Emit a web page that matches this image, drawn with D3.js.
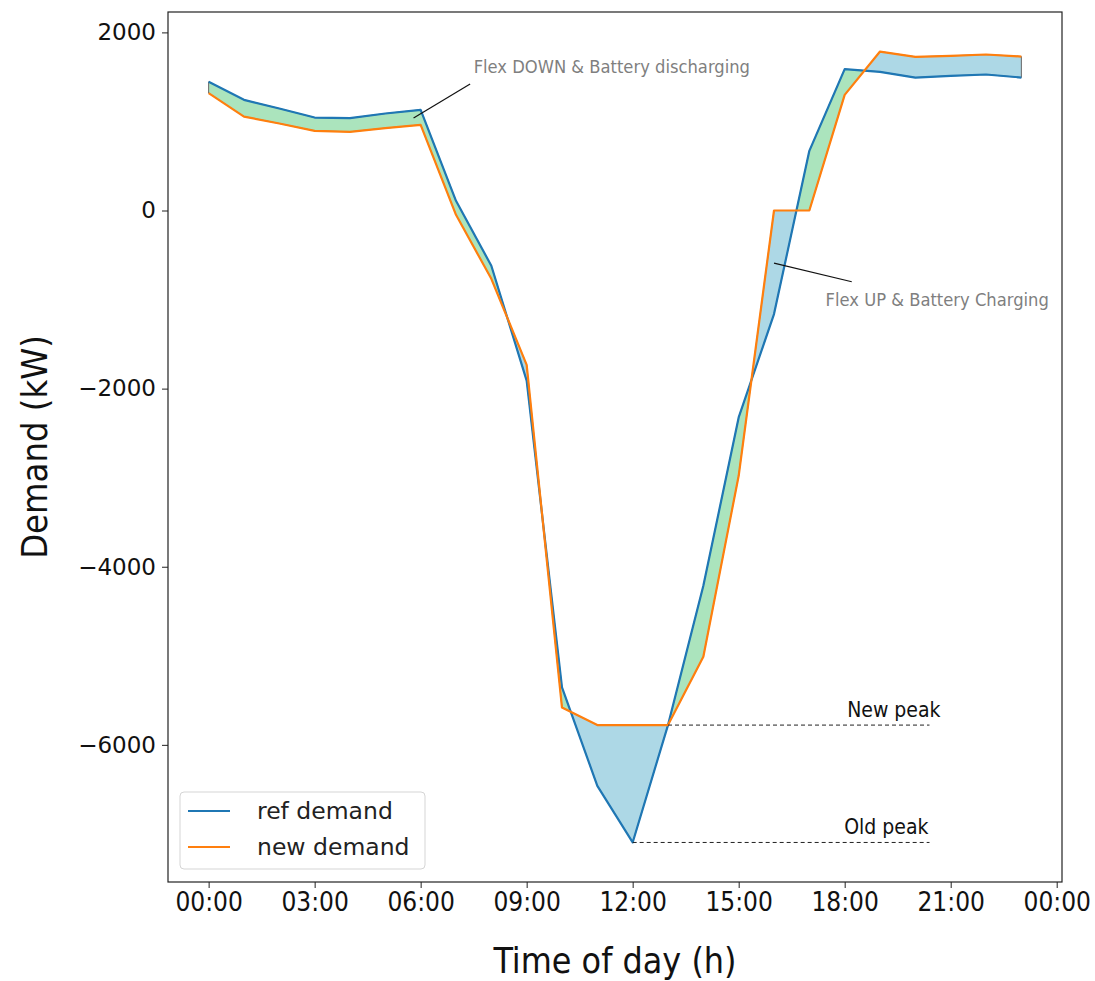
<!DOCTYPE html>
<html>
<head>
<meta charset="utf-8">
<script src="https://cdn.jsdelivr.net/npm/d3@7"></script>
<style>
  html, body { margin: 0; padding: 0; background: #fff; }
  svg { display: block; }
</style>
</head>
<body>
<svg id="chart" width="1095" height="981"></svg>
<script>
// ---- data ----
const hours = [0,1,2,3,4,5,6,7,8,9,10,11,12,13,14,15,16,17,18,19,20,21,22,23];
const refDemand = [1445,1243,1145,1044,1037,1089,1131,109,-620,-1911,-5356,-6460,-7096,-5778,-4214,-2324,-1163,670,1588,1557,1493,1512,1527,1493];
const newDemand = [1318,1055,977,895,884,925,962,-48,-767,-1733,-5581,-5778,-5778,-5778,-5011,-2979,0,0,1299,1785,1726,1737,1752,1729];
const xTicks = [0,3,6,9,12,15,18,21,24];
const xTickLabels = ["00:00","03:00","06:00","09:00","12:00","15:00","18:00","21:00","00:00"];
const yTicks = [2000,0,-2000,-4000,-6000];
const seriesNames = ["ref demand","new demand"];
const newPeak = -5778, newPeakHour = 13;
const oldPeak = -7096, oldPeakHour = 12;
const peakLineEndHour = 20.4;
const annoDown = {text:"Flex DOWN & Battery discharging", from:[5.8,1040], to:[7.4,1420], at:[7.5,1546]};
const annoUp = {text:"Flex UP & Battery Charging", from:[16.0,-590], to:[18.2,-800], at:[17.46,-1070]};

// ---- layout ----
const svg = d3.select("#chart");
const L = 168, R = 1062, T = 12, B = 882;
const xMin = d3.min(hours), xMax = d3.max(hours);
const xPad = (xMax - xMin) * 0.05;
const allV = refDemand.concat(newDemand);
const vMin = d3.min(allV), vMax = d3.max(allV);
const yPad = (vMax - vMin) * 0.05;
const x = d3.scaleLinear().domain([xMin - xPad, xMax + xPad]).range([L, R]);
const y = d3.scaleLinear().domain([vMin - yPad, vMax + yPad]).range([B, T]);

const blue = "#1f77b4", orange = "#ff7f0e";
const greenFill = "#abe4bd", blueFill = "#add8e6";
const narrow = "Liberation Sans Narrow, DejaVu Sans Condensed, sans-serif";

// ---- fill between with interpolation ----
const pts = [];
for (let i = 0; i < hours.length; i++) {
  const p = {t: hours[i], r: refDemand[i], n: newDemand[i]};
  p.d = p.r - p.n;
  pts.push(p);
  if (i < hours.length - 1) {
    const d1 = refDemand[i] - newDemand[i], d2 = refDemand[i+1] - newDemand[i+1];
    if (d1 * d2 < 0) {
      const f = d1 / (d1 - d2);
      const t = hours[i] + f * (hours[i+1] - hours[i]);
      const r = refDemand[i] + f * (refDemand[i+1] - refDemand[i]);
      pts.push({t: t, r: r, n: r, d: 0});
    }
  }
}
const runs = [];
let cur = null, lastZero = null;
for (const p of pts) {
  const s = Math.sign(p.d);
  if (s === 0) { if (cur) cur.pts.push(p); lastZero = p; continue; }
  if (!cur || cur.sign !== s) {
    cur = {sign: s, pts: lastZero ? [lastZero] : []};
    runs.push(cur);
  }
  cur.pts.push(p);
  lastZero = null;
}
const area = d3.area().x(d => x(d.t)).y0(d => y(d.r)).y1(d => y(d.n));
svg.append("g").selectAll("path").data(runs).join("path")
  .attr("d", d => area(d.pts))
  .attr("fill", d => d.sign > 0 ? greenFill : blueFill)
  .attr("stroke", "#666").attr("stroke-width", 1);

// ---- lines ----
const line = d3.line().x((d, i) => x(hours[i])).y(d => y(d));
svg.append("path").attr("d", line(refDemand)).attr("fill", "none")
  .attr("stroke", blue).attr("stroke-width", 2.2).attr("stroke-linejoin", "round");
svg.append("path").attr("d", line(newDemand)).attr("fill", "none")
  .attr("stroke", orange).attr("stroke-width", 2.2).attr("stroke-linejoin", "round");

// ---- peak lines ----
svg.append("line").attr("x1", x(newPeakHour)).attr("x2", x(peakLineEndHour))
  .attr("y1", y(newPeak)).attr("y2", y(newPeak))
  .attr("stroke", "#222").attr("stroke-width", 1).attr("stroke-dasharray", "4,3");
svg.append("line").attr("x1", x(oldPeakHour)).attr("x2", x(peakLineEndHour))
  .attr("y1", y(oldPeak)).attr("y2", y(oldPeak))
  .attr("stroke", "#222").attr("stroke-width", 1).attr("stroke-dasharray", "4,3");
svg.append("text").attr("x", x(peakLineEndHour) + 11).attr("y", y(newPeak) - 8)
  .attr("text-anchor", "end").attr("font-family", narrow)
  .attr("font-size", 21).attr("fill", "#111").text("New peak");
svg.append("text").attr("x", x(peakLineEndHour) - 1).attr("y", y(oldPeak) - 8)
  .attr("text-anchor", "end").attr("font-family", narrow)
  .attr("font-size", 21).attr("fill", "#111").text("Old peak");

// ---- annotations ----
for (const a of [annoDown, annoUp]) {
  svg.append("line").attr("x1", x(a.from[0])).attr("y1", y(a.from[1]))
    .attr("x2", x(a.to[0])).attr("y2", y(a.to[1]))
    .attr("stroke", "#111").attr("stroke-width", 1.2);
  svg.append("text").attr("x", x(a.at[0])).attr("y", y(a.at[1]))
    .attr("font-family", narrow)
    .attr("font-size", 18.2).attr("fill", "#7f7f7f").text(a.text);
}

// ---- frame & axes ----
svg.append("rect").attr("x", L).attr("y", T).attr("width", R - L).attr("height", B - T)
  .attr("fill", "none").attr("stroke", "#222").attr("stroke-width", 1.2);

const xAxis = svg.append("g").attr("transform", `translate(0,${B})`)
  .call(d3.axisBottom(x).tickValues(xTicks).tickFormat((d, i) => xTickLabels[i]).tickSize(6).tickPadding(5));
xAxis.select(".domain").remove();
xAxis.selectAll("line").attr("stroke", "#222");
xAxis.selectAll("text").attr("font-family", narrow)
  .attr("font-size", 26).attr("fill", "#111");

const yAxis = svg.append("g").attr("transform", `translate(${L},0)`)
  .call(d3.axisLeft(y).tickValues(yTicks).tickFormat(d => d3.format("d")(d).replace("-", "\u2212")).tickSize(6).tickPadding(6));
yAxis.select(".domain").remove();
yAxis.selectAll("line").attr("stroke", "#222");
yAxis.selectAll("text").attr("font-family", "DejaVu Sans, sans-serif")
  .attr("font-size", 23).attr("fill", "#111");

svg.append("text").attr("x", (L + R) / 2).attr("y", 973).attr("text-anchor", "middle")
  .attr("font-family", narrow)
  .attr("font-size", 35.5).attr("fill", "#111").text("Time of day (h)");
svg.append("text").attr("transform", `translate(47,${(T + B) / 2}) rotate(-90)`).attr("text-anchor", "middle")
  .attr("font-family", narrow)
  .attr("font-size", 36).attr("fill", "#111").text("Demand (kW)");

// ---- legend ----
const lg = svg.append("g").attr("transform", "translate(180,792)");
lg.append("rect").attr("width", 245).attr("height", 77).attr("rx", 4)
  .attr("fill", "#fff").attr("stroke", "#d5d5d5").attr("stroke-width", 1);
[blue, orange].forEach((c, i) => {
  const yy = 19 + i * 36;
  lg.append("line").attr("x1", 8).attr("x2", 50).attr("y1", yy).attr("y2", yy)
    .attr("stroke", c).attr("stroke-width", 2.2);
  lg.append("text").attr("x", 77).attr("y", yy + 8).attr("font-family", "DejaVu Sans, sans-serif")
    .attr("font-size", 23.5).attr("fill", "#222").text(seriesNames[i]);
});
</script>
</body>
</html>
